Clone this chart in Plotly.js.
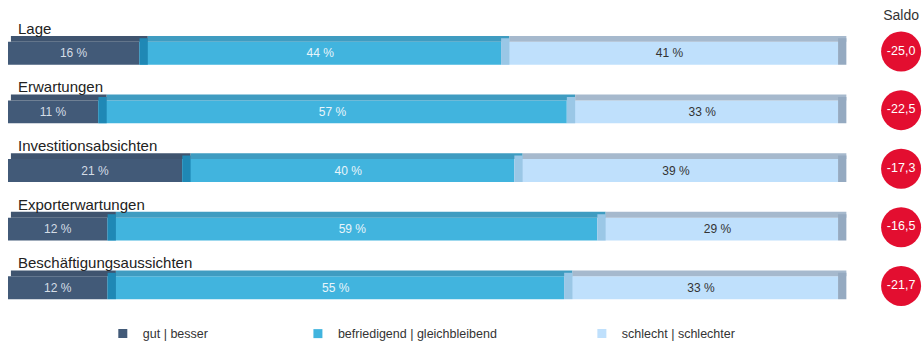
<!DOCTYPE html>
<html>
<head>
<meta charset="utf-8">
<script src="https://cdn.plot.ly/plotly-3.0.1.min.js"></script>
<style>html,body{margin:0;padding:0;background:#fff;}#chart{width:924px;height:349px;}</style>
</head>
<body>
<div id="chart"></div>
<script>
// ---- data ----
const categories = ["Lage", "Erwartungen", "Investitionsabsichten", "Exporterwartungen", "Beschäftigungsaussichten"];
const seriesNames = ["gut | besser", "befriedigend | gleichbleibend", "schlecht | schlechter"];
const gut = [16, 11, 21, 12, 12];
const befriedigend = [44, 57, 40, 59, 55];
const schlecht = [41, 33, 39, 29, 33];
const saldo = [-25.0, -22.5, -17.3, -16.5, -21.7];
const saldoLabel = "Saldo";

// ---- styles ----
const frontColors = ["#425a78", "#41b4de", "#bfe0fc"];
const topColors = ["#3f546f", "#3f9cc1", "#a6b9cd"];
const sideColors = ["#1f88b5", "#9ac7e6", "#95aac1"];
const labelColors = ["#d5dde6", "#e8f5fb", "#333333"];
const FONT = "Liberation Sans, Arial, sans-serif";

const series = [gut, befriedigend, schlecht];
const totals = categories.map((c, i) => series.reduce((s, a) => s + a[i], 0));
const pct = series.map(a => a.map((v, i) => v / totals[i] * 100));
const starts = pct.map((a, k) => a.map((v, i) => pct.slice(0, k).reduce((s, b) => s + b[i], 0)));

const FRONT_W = 0.39, FRONT_OFF = -0.195;
const TOP_W = 0.1, TOP_OFF = FRONT_OFF - TOP_W;
const DEPTH = 1.0;

const traces = [];
// front faces
pct.forEach((a, k) => {
  traces.push({
    type: "bar", orientation: "h", name: seriesNames[k], showlegend: false,
    y: categories, x: a, base: starts[k],
    width: FRONT_W, offset: FRONT_OFF,
    marker: {color: frontColors[k], line: {width: 0}},
    text: series[k].map(v => v + " %"), textposition: "inside", insidetextanchor: "middle",
    textangle: 0, constraintext: "none",
    textfont: {family: FONT, size: 12, color: labelColors[k]},
    hoverinfo: "skip", xaxis: "x", yaxis: "y"
  });
});
// top faces
pct.forEach((a, k) => {
  const shift = k === 0 ? 0.35 : DEPTH;
  traces.push({
    type: "bar", orientation: "h", showlegend: false,
    y: categories, x: a.map(v => v + DEPTH - shift), base: starts[k].map(s => s + shift),
    width: TOP_W, offset: TOP_OFF,
    marker: {color: topColors[k], line: {width: 0}},
    hoverinfo: "skip", xaxis: "x", yaxis: "y"
  });
});
// side faces
pct.forEach((a, k) => {
  traces.push({
    type: "bar", orientation: "h", showlegend: false,
    y: categories, x: a.map(() => DEPTH), base: a.map((v, i) => starts[k][i] + v),
    width: FRONT_W + TOP_W * 0.6, offset: TOP_OFF + TOP_W * 0.4,
    marker: {color: sideColors[k], line: {width: 0}},
    hoverinfo: "skip", xaxis: "x", yaxis: "y"
  });
});
// legend entries
seriesNames.forEach((n, k) => {
  traces.push({
    type: "scatter", mode: "markers", name: n, x: [null], y: [null],
    marker: {symbol: "square", size: 9, color: frontColors[k]},
    legend: k === 0 ? "legend" : "legend" + (k + 1),
    xaxis: "x", yaxis: "y", hoverinfo: "skip"
  });
});
// saldo circles
traces.push({
  type: "scatter", mode: "markers+text", showlegend: false,
  x: categories.map(() => saldoLabel), y: categories,
  marker: {size: 40, color: "#e30e30", line: {width: 0}},
  text: saldo.map(v => v.toFixed(1).replace(".", ",")),
  textposition: "middle center",
  textfont: {family: FONT, size: 12.5, color: "#ffffff"},
  xaxis: "x2", yaxis: "y2", hoverinfo: "skip", cliponaxis: false
});

const annotations = categories.map(c => ({
  xref: "paper", yref: "y", x: 0.0087, y: c, xanchor: "left", yanchor: "middle",
  yshift: 25, text: c, showarrow: false,
  font: {family: FONT, size: 15, color: "#222222"}
}));

const legendBase = {orientation: "h", yanchor: "middle", y: -0.058, xanchor: "left",
  font: {family: FONT, size: 12.5, color: "#333333"}, bgcolor: "rgba(0,0,0,0)", borderwidth: 0};

const layout = {
  width: 924, height: 349,
  margin: {l: 8, r: 0, t: 24, b: 28, pad: 0},
  paper_bgcolor: "#ffffff", plot_bgcolor: "#ffffff",
  barmode: "overlay",
  font: {family: FONT},
  xaxis: {domain: [0, 0.9243], range: [0, 102], visible: false, fixedrange: true},
  yaxis: {type: "category", categoryorder: "array", categoryarray: categories,
          range: [4.5, -0.5], visible: false, fixedrange: true},
  xaxis2: {domain: [0.95, 1], anchor: "y2", type: "category", side: "top", range: [-0.5, 0.5],
           showgrid: false, zeroline: false, showline: false, ticks: "",
           tickfont: {family: FONT, size: 14, color: "#333333"}},
  yaxis2: {anchor: "x2", type: "category", categoryorder: "array", categoryarray: categories,
           range: [4.53, -0.47], visible: false},
  annotations: annotations,
  legend: Object.assign({}, legendBase, {x: 0.1035}),
  legend2: Object.assign({}, legendBase, {x: 0.3165}),
  legend3: Object.assign({}, legendBase, {x: 0.6265}),
  showlegend: true
};

Plotly.newPlot("chart", traces, layout, {displayModeBar: false, staticPlot: true});
</script>
</body>
</html>
